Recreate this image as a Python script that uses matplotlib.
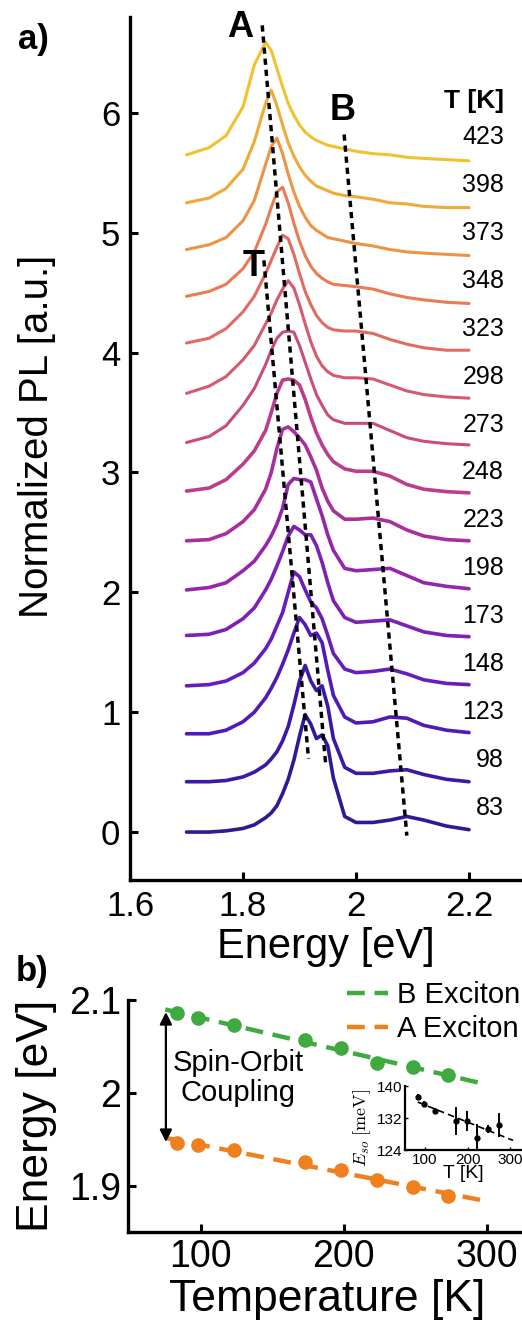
import numpy as np
import matplotlib
matplotlib.use("Agg")
import matplotlib.pyplot as plt

plt.rcParams['font.family'] = ['Liberation Sans', 'DejaVu Sans']
plt.rcParams['mathtext.fontset'] = 'cm'

# ---- panel a: normalized PL spectra, offset by 0.4 per temperature ----
energy = [1.70, 1.74, 1.77, 1.80, 1.82, 1.84, 1.85, 1.86, 1.87, 1.88, 1.89, 1.90, 1.91,
          1.92, 1.93, 1.94, 1.95, 1.96, 1.98, 2.00, 2.03, 2.06, 2.09, 2.12, 2.16, 2.20]
temps_a = [83, 98, 123, 148, 173, 198, 223, 248, 273, 298, 323, 348, 373, 398, 423]
offsets = [0.0, 0.4, 0.8, 1.2, 1.6, 2.0, 2.4, 2.8, 3.2, 3.6, 4.0, 4.4, 4.8, 5.2, 5.6]

pl_83 = [0.0, 0.0, 0.01, 0.03, 0.06, 0.12, 0.16, 0.22, 0.32, 0.44, 0.60, 0.80, 0.98, 0.90, 0.78, 0.81, 0.72, 0.45, 0.13, 0.08, 0.08, 0.10, 0.13, 0.10, 0.05, 0.02]
pl_98 = [0.02, 0.02, 0.03, 0.06, 0.10, 0.16, 0.21, 0.27, 0.36, 0.48, 0.66, 0.86, 0.99, 0.86, 0.78, 0.82, 0.65, 0.38, 0.14, 0.09, 0.09, 0.11, 0.12, 0.08, 0.04, 0.02]
pl_123 = [0.02, 0.02, 0.05, 0.12, 0.20, 0.32, 0.40, 0.49, 0.60, 0.72, 0.86, 0.99, 0.93, 0.84, 0.86, 0.78, 0.55, 0.34, 0.16, 0.11, 0.12, 0.16, 0.15, 0.09, 0.05, 0.03]
pl_148 = [0.02, 0.03, 0.06, 0.13, 0.21, 0.33, 0.41, 0.52, 0.63, 0.80, 0.97, 0.93, 0.82, 0.72, 0.67, 0.58, 0.44, 0.29, 0.16, 0.13, 0.14, 0.16, 0.12, 0.07, 0.04, 0.03]
pl_173 = [0.04, 0.05, 0.09, 0.18, 0.27, 0.42, 0.51, 0.62, 0.74, 0.87, 0.95, 0.92, 0.88, 0.88, 0.79, 0.65, 0.48, 0.33, 0.19, 0.15, 0.16, 0.17, 0.12, 0.07, 0.04, 0.03]
pl_198 = [0.02, 0.04, 0.08, 0.18, 0.26, 0.39, 0.47, 0.57, 0.70, 0.90, 0.95, 0.94, 0.94, 0.92, 0.78, 0.64, 0.48, 0.35, 0.20, 0.18, 0.19, 0.20, 0.14, 0.08, 0.05, 0.03]
pl_223 = [0.03, 0.04, 0.09, 0.19, 0.29, 0.46, 0.60, 0.80, 0.96, 0.98, 0.94, 0.89, 0.83, 0.73, 0.62, 0.47, 0.36, 0.28, 0.21, 0.21, 0.22, 0.19, 0.12, 0.07, 0.04, 0.03]
pl_248 = [0.045, 0.07, 0.14, 0.27, 0.38, 0.55, 0.70, 0.86, 0.97, 0.98, 0.97, 0.93, 0.81, 0.66, 0.53, 0.43, 0.35, 0.29, 0.23, 0.21, 0.21, 0.17, 0.10, 0.06, 0.04, 0.03]
pl_273 = [0.05, 0.10, 0.19, 0.36, 0.50, 0.70, 0.82, 0.92, 0.97, 0.98, 0.97, 0.86, 0.72, 0.58, 0.45, 0.36, 0.28, 0.24, 0.21, 0.21, 0.21, 0.15, 0.09, 0.06, 0.04, 0.03]
pl_298 = [0.06, 0.12, 0.20, 0.34, 0.46, 0.64, 0.73, 0.84, 0.93, 1.00, 0.94, 0.80, 0.64, 0.49, 0.37, 0.29, 0.24, 0.21, 0.19, 0.19, 0.18, 0.13, 0.08, 0.05, 0.03, 0.02]
pl_323 = [0.08, 0.12, 0.20, 0.34, 0.47, 0.66, 0.77, 0.88, 0.98, 0.95, 0.82, 0.66, 0.51, 0.40, 0.31, 0.25, 0.21, 0.19, 0.18, 0.18, 0.16, 0.11, 0.07, 0.04, 0.02, 0.02]
pl_348 = [0.07, 0.11, 0.17, 0.30, 0.44, 0.67, 0.81, 0.94, 0.98, 0.85, 0.68, 0.53, 0.41, 0.32, 0.26, 0.22, 0.19, 0.17, 0.16, 0.15, 0.13, 0.09, 0.06, 0.04, 0.02, 0.01]
pl_373 = [0.06, 0.10, 0.16, 0.30, 0.47, 0.77, 0.92, 0.99, 0.86, 0.69, 0.54, 0.42, 0.33, 0.26, 0.22, 0.19, 0.16, 0.15, 0.13, 0.11, 0.09, 0.06, 0.04, 0.03, 0.02, 0.01]
pl_398 = [0.05, 0.09, 0.17, 0.33, 0.56, 0.88, 0.99, 0.86, 0.70, 0.55, 0.44, 0.35, 0.28, 0.23, 0.19, 0.17, 0.15, 0.13, 0.11, 0.10, 0.08, 0.05, 0.04, 0.02, 0.01, 0.01]
pl_423 = [0.05, 0.11, 0.21, 0.45, 0.80, 0.99, 0.92, 0.77, 0.62, 0.48, 0.38, 0.30, 0.24, 0.20, 0.17, 0.15, 0.13, 0.12, 0.10, 0.08, 0.06, 0.05, 0.03, 0.02, 0.01, 0.0]

spectra = [pl_83, pl_98, pl_123, pl_148, pl_173, pl_198, pl_223, pl_248,
           pl_273, pl_298, pl_323, pl_348, pl_373, pl_398, pl_423]

colors = ['#2B1C96', '#3D17A6', '#5119B5', '#681CBA', '#7E20B6', '#9526AC', '#AA2F9C', '#BC3D8E',
          '#CA4B7E', '#D65A6E', '#E26A60', '#EA7B52', '#EE9244', '#EFAA38', '#F0C22E']

# dotted guide lines following the peaks: (E_start, y_start, E_end, y_end)
guide_A = [1.834, 6.73, 1.946, 0.58]
guide_T = [1.837, 4.77, 1.916, 0.61]
guide_B = [1.979, 5.82, 2.090, -0.03]

# ---- panel b: exciton energies vs temperature ----
temps_b = [83, 98, 123, 173, 198, 223, 248, 273]
e_B = [2.086, 2.081, 2.073, 2.057, 2.048, 2.032, 2.028, 2.019]
e_A = [1.946, 1.944, 1.938, 1.925, 1.917, 1.906, 1.898, 1.889]

# inset: spin-orbit splitting
e_so = [137.3, 135.5, 133.8, 131.3, 131.3, 126.9, 129.2, 130.2]
e_so_err = [0.6, 0.8, 0.8, 3.5, 2.5, 3.5, 1.0, 3.0]

W, H = 522, 1323
fig = plt.figure(figsize=(W / 100, H / 100), dpi=100)

def px_axes(l, t, r, b):
    return fig.add_axes([l / W, 1 - b / H, (r - l) / W, (b - t) / H])

ax = px_axes(130, 17, 522, 880)
for k in range(len(temps_a)):
    y = np.array(spectra[k]) + offsets[k]
    lw = 2.6 if temps_a[k] < 260 else 2.2
    ax.plot(energy, y, color=colors[k], lw=lw, solid_capstyle='round', solid_joinstyle='round')
    ax.text(2.262, offsets[k] + 0.2, str(temps_a[k]), ha='right', va='center', fontsize=18)
ax.text(2.262, 6.1, 'T [K]', ha='right', va='center', fontsize=19, fontweight='bold')

for g in (guide_A, guide_T, guide_B):
    ax.plot([g[0], g[2]], [g[1], g[3]], color='black', lw=2.5, linestyle=(0, (1.8, 1.4)))

ax.text(1.795, 6.71, 'A', ha='center', va='center', fontsize=26, fontweight='bold')
ax.text(1.977, 6.02, 'B', ha='center', va='center', fontsize=26, fontweight='bold')
ax.text(1.818, 4.72, 'T', ha='center', va='center', fontsize=26, fontweight='bold')

ax.set_xlim(1.6, 1.6 + 392 / 565)
ax.set_ylim(-0.4, 6.8)
ax.set_xticks([1.6, 1.8, 2.0, 2.2])
ax.set_xticklabels(['1.6', '1.8', '2', '2.2'])
ax.set_yticks([0, 1, 2, 3, 4, 5, 6])
for s in ['top', 'right']:
    ax.spines[s].set_visible(False)
for s in ['left', 'bottom']:
    ax.spines[s].set_linewidth(2.4)
ax.tick_params(direction='in', length=6, width=2.2, labelsize=25, pad=7)

fig.text(37 / W, 1 - 436 / H, 'Normalized PL [a.u.]', rotation=90, ha='center', va='center', fontsize=29)
fig.text(326 / W, 1 - 947 / H, 'Energy [eV]', ha='center', va='center', fontsize=30)
fig.text(33 / W, 1 - 40 / H, 'a)', ha='center', va='center', fontsize=25, fontweight='bold')

# ---- panel b ----
bx = px_axes(128, 1000, 522, 1232)
green = '#3FAA3F'
orange = '#F07F1E'
tfit = np.array([75, 300])
pB = np.polyfit(temps_b, e_B, 1)
pA = np.polyfit(temps_b, e_A, 1)
bx.plot(tfit, np.polyval(pB, tfit), color=green, lw=3.2, dashes=(4, 2.2), label='B Exciton')
bx.plot(tfit, np.polyval(pA, tfit), color=orange, lw=3.2, dashes=(4, 2.2), label='A Exciton')
bx.errorbar(temps_b, e_B, yerr=0.003, fmt='o', color=green, ms=9.5, elinewidth=2, capsize=0)
bx.errorbar(temps_b, e_A, yerr=0.003, fmt='o', color=orange, ms=9.5, elinewidth=2, capsize=0)
bx.annotate('', xy=(75.5, 1.947), xytext=(75.5, 2.087),
            arrowprops=dict(arrowstyle='<|-|>', color='black', lw=1.6, mutation_scale=18,
                            shrinkA=0, shrinkB=0))
bx.text(126, 2.016, 'Spin-Orbit\nCoupling', ha='center', va='center', fontsize=21, linespacing=1.1)
bx.set_xlim(49, 49 + 394 / 1.43)
bx.set_ylim(1.85, 2.1)
bx.set_xticks([100, 200, 300])
bx.set_yticks([1.9, 2.0, 2.1])
bx.set_yticklabels(['1.9', '2', '2.1'])
for s in ['top', 'right']:
    bx.spines[s].set_visible(False)
for s in ['left', 'bottom']:
    bx.spines[s].set_linewidth(2.4)
bx.tick_params(direction='in', length=6, width=2.2, labelsize=27, pad=5)
bx.legend(loc='upper left', bbox_to_anchor=(347 / W, 1 - 981 / H), bbox_transform=fig.transFigure,
          frameon=False, fontsize=21, handlelength=1.4, handletextpad=0.3, labelspacing=0.2,
          borderpad=0, borderaxespad=0)

fig.text(37 / W, 1 - 1116 / H, 'Energy [eV]', rotation=90, ha='center', va='center', fontsize=32)
fig.text(327 / W, 1 - 1300 / H, 'Temperature [K]', ha='center', va='center', fontsize=32)
fig.text(32 / W, 1 - 972 / H, 'b)', ha='center', va='center', fontsize=25, fontweight='bold')

# inset
ix = px_axes(405, 1086, 522, 1150)
pS = np.polyfit(temps_b, e_so, 1)
tin = np.array([83, 307])
ix.plot(tin, np.polyval(pS, tin), color='black', lw=1.2, dashes=(4, 2.5))
ix.errorbar(temps_b, e_so, yerr=e_so_err, fmt='o', color='black', ms=3.5, elinewidth=1.4, capsize=0)
ix.set_xlim(53, 328)
ix.set_ylim(124, 140)
ix.set_xticks([100, 200, 300])
ix.set_yticks([124, 132, 140])
for s in ['top', 'right']:
    ix.spines[s].set_visible(False)
for s in ['left', 'bottom']:
    ix.spines[s].set_linewidth(1.6)
ix.tick_params(direction='in', length=2, width=1, labelsize=11, pad=2)
ix.set_xlabel('T [K]', fontsize=14, labelpad=-1)
fig.text(362 / W, 1 - 1128 / H, r'$E_{so}\ [\mathrm{meV}]$', rotation=90, ha='center', va='center', fontsize=13)

fig.savefig('out.png', dpi=100)
